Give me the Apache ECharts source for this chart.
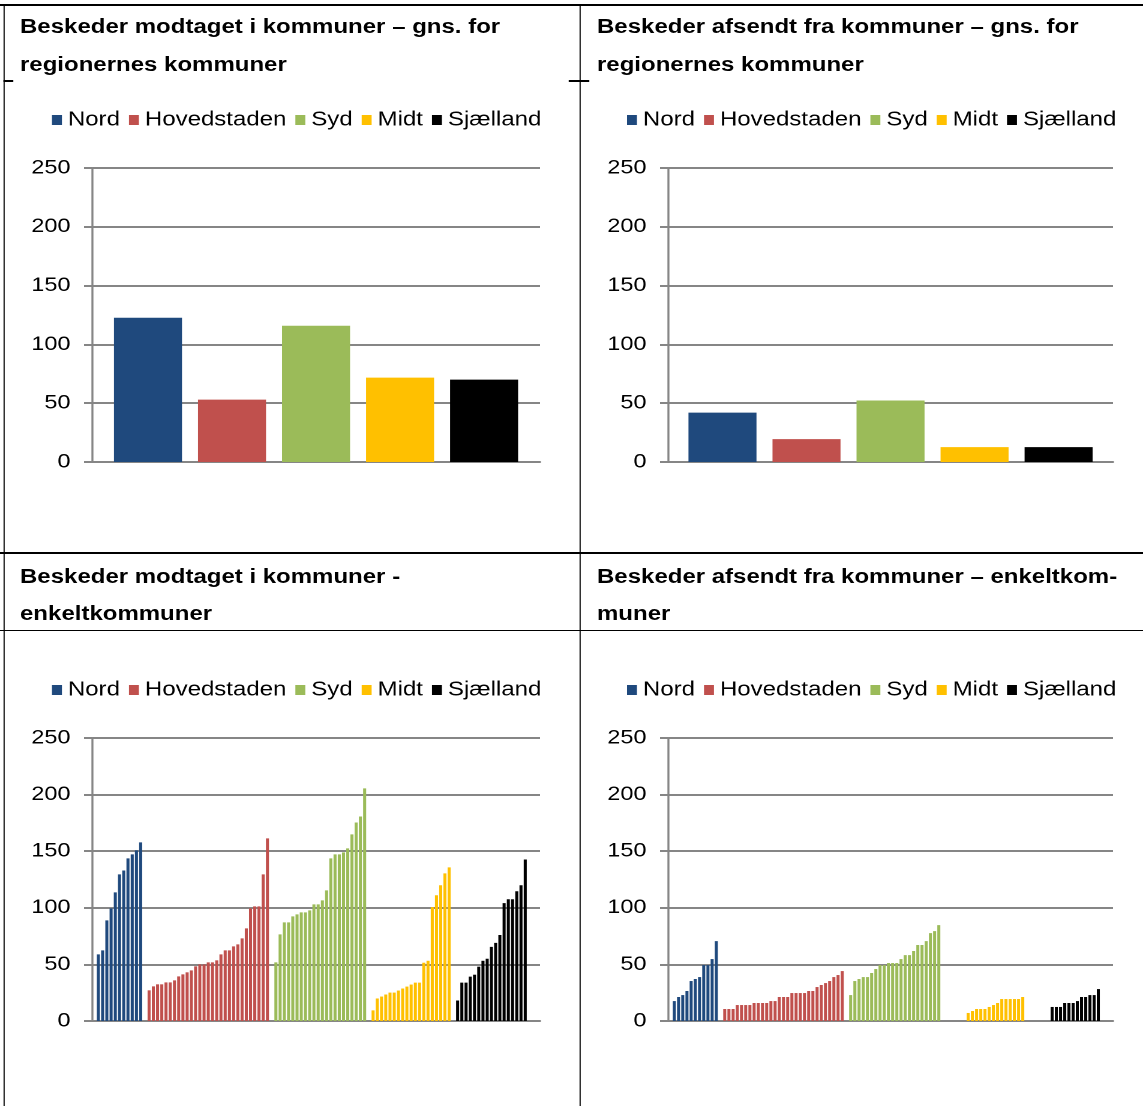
<!DOCTYPE html>
<html>
<head>
<meta charset="utf-8">
<script src="https://cdn.jsdelivr.net/npm/echarts@6/dist/echarts.min.js"></script>
<style>
  html, body { margin: 0; padding: 0; background: #fff; overflow: hidden; }
  #page {
    position: absolute; left: 0; top: 0;
    width: 952.5px; height: 1106px;
    transform: scaleX(1.2); transform-origin: 0 0;
    font-family: 'Liberation Sans', Arial, sans-serif;
  }
  .rule { position: absolute; background: #000; }
  .title {
    position: absolute; font-weight: bold; font-size: 20px; color: #000;
    white-space: nowrap;
  }
  .chart { position: absolute; }
</style>
</head>
<body>
<div id="page">
  <!-- table rules -->
  <div class="rule" style="left:0; top:4px; width:952.5px; height:1.5px"></div>
  <div class="rule" style="left:2.9px; top:4px; width:1.2px; height:1102px"></div>
  <div class="rule" style="left:482.9px; top:4px; width:1.5px; height:1102px"></div>
  <div class="rule" style="left:0; top:552px; width:952.5px; height:1.5px"></div>
  <div class="rule" style="left:0; top:629.5px; width:952.5px; height:1.5px"></div>
  <div class="rule" style="left:3px; top:80px; width:8px; height:1.5px"></div>
  <div class="rule" style="left:474px; top:80px; width:17px; height:1.5px"></div>

  <div class="title" style="left:16.7px; top:7px; line-height:38px">Beskeder modtaget i kommuner – gns. for<br>regionernes kommuner</div>
  <div class="title" style="left:497.5px; top:7px; line-height:38px">Beskeder afsendt fra kommuner – gns. for<br>regionernes kommuner</div>
  <div class="title" style="left:16.7px; top:557.5px; line-height:37px">Beskeder modtaget i kommuner -<br>enkeltkommuner</div>
  <div class="title" style="left:497.5px; top:557.5px; line-height:37px">Beskeder afsendt fra kommuner – enkeltkom-<br>muner</div>

  <div id="c1" class="chart" style="left:4px; top:90px; width:480px; height:460px"></div>
  <div id="c2" class="chart" style="left:484px; top:90px; width:468px; height:460px"></div>
  <div id="c3" class="chart" style="left:4px; top:660px; width:480px; height:446px"></div>
  <div id="c4" class="chart" style="left:484px; top:660px; width:468px; height:446px"></div>
</div>
<script>
// Regions and their colours
const regions = ['Nord', 'Hovedstaden', 'Syd', 'Midt', 'Sjælland'];
const regionColors = ['#1F497D', '#C0504D', '#9BBB59', '#FFC000', '#000000'];
const yTicks = [0, 50, 100, 150, 200, 250];

// Average per municipality in each region
const gnsModtaget = [122.7, 53.0, 115.9, 71.7, 70.0];
const gnsAfsendt = [42.0, 19.5, 52.3, 12.6, 12.6];

// Messages received, single municipalities (sorted within region)
const modtagetNord = [58.9, 62.4, 88.9, 99.5, 113.6, 129.5, 133.0, 143.7, 147.2, 150.7, 157.8];
const modtagetHovedstaden = [27.1, 30.6, 32.4, 32.4, 34.1, 34.1, 35.9, 39.4, 41.2, 43.0, 44.7, 48.3, 50.0, 50.0, 51.8, 51.8, 53.6, 58.9, 62.4, 62.4, 65.9, 67.7, 73.0, 81.8, 99.5, 101.3, 101.3, 129.5, 161.3];
const modtagetSyd = [51.8, 76.5, 87.1, 87.1, 92.4, 94.2, 96.0, 96.0, 97.7, 103.0, 103.0, 106.6, 115.4, 143.7, 147.2, 147.2, 149.0, 152.5, 164.9, 175.4, 180.7, 205.5];
const modtagetMidt = [9.4, 19.9, 21.6, 23.4, 25.1, 25.1, 26.9, 28.7, 30.4, 32.2, 33.9, 33.9, 51.5, 53.2, 100.6, 111.1, 119.9, 130.4, 135.7];
const modtagetSjaelland = [18.1, 33.9, 33.9, 39.2, 40.9, 48.0, 53.2, 55.0, 65.5, 69.0, 76.0, 104.1, 107.6, 107.6, 114.6, 119.9, 142.7];

// Messages sent, single municipalities (sorted within region)
const afsendtNord = [17.6, 21.2, 22.9, 26.5, 35.3, 37.1, 38.8, 49.4, 49.4, 54.7, 70.6];
const afsendtHovedstaden = [10.6, 10.6, 10.6, 14.1, 14.1, 14.1, 14.1, 15.9, 15.9, 15.9, 15.9, 17.6, 17.6, 21.2, 21.2, 21.2, 24.7, 24.7, 24.7, 24.7, 26.5, 26.5, 30.0, 31.8, 33.5, 35.3, 38.8, 40.6, 44.1];
const afsendtSyd = [22.9, 35.3, 37.1, 38.8, 38.8, 42.4, 45.9, 49.4, 49.4, 51.2, 51.2, 51.2, 54.7, 58.2, 58.2, 61.8, 67.1, 67.1, 70.6, 77.6, 79.4, 84.7];
const afsendtMidt = [0, 0, 0, 0, 0, 7.1, 8.8, 10.6, 10.6, 10.6, 12.4, 14.1, 15.9, 19.4, 19.4, 19.4, 19.4, 19.4, 21.2];
const afsendtSjaelland = [0, 0, 0, 0, 0, 12.4, 12.4, 12.4, 15.9, 15.9, 15.9, 17.6, 21.2, 21.2, 22.9, 22.9, 28.2];

const FONT = "'Liberation Sans', Arial, sans-serif";
const GRAY = '#868686';

// Empty category slots: one before the first region, one between regions, three at the end
const LEAD_SLOTS = 1, BETWEEN_SLOTS = 1, TRAIL_SLOTS = 3;

function buildCategorySeries(groups) {
  const categories = [];
  const owner = [];          // region index per slot, -1 for empty slots
  const values = [];
  let gapNo = 0;
  const addGap = n => { for (let i = 0; i < n; i++) { categories.push('tom ' + (++gapNo)); owner.push(-1); values.push(null); } };
  addGap(LEAD_SLOTS);
  groups.forEach((vals, r) => {
    if (r > 0) addGap(BETWEEN_SLOTS);
    vals.forEach((v, k) => { categories.push(regions[r] + ' ' + (k + 1)); owner.push(r); values.push(v); });
  });
  addGap(TRAIL_SLOTS);
  const series = regions.map((name, r) => ({
    type: 'bar', name,
    data: values.map((v, i) => owner[i] === r ? v : null),
    barWidth: '72%', barGap: '-100%'
  }));
  return { categories, series };
}

function baseOption(gridLeft, gridWidth, gridHeight, legendLeft) {
  return {
    animation: false,
    color: regionColors,
    legend: {
      data: regions, left: legendLeft, top: 20, padding: 0,
      icon: 'rect', itemWidth: 8.3, itemHeight: 10, itemGap: 7.5,
      textStyle: { fontFamily: FONT, fontSize: 20, color: '#000' }
    },
    grid: { left: gridLeft, top: 78, width: gridWidth, height: gridHeight },
    yAxis: {
      type: 'value', min: yTicks[0], max: yTicks[yTicks.length - 1], interval: 50,
      axisLine: { show: true, lineStyle: { color: GRAY, width: 1.7 } },
      axisTick: { show: true, length: 6.7, lineStyle: { color: GRAY, width: 2 } },
      axisLabel: { margin: 18, fontFamily: FONT, fontSize: 19.5, color: '#000', padding: [6, 0, 0, 0] },
      splitLine: { show: true, lineStyle: { color: GRAY, width: 2 } }
    }
  };
}

function avgChart(id, values, gridLeft, gridWidth, legendLeft) {
  const chart = echarts.init(document.getElementById(id), null, { devicePixelRatio: 2 });
  const opt = baseOption(gridLeft, gridWidth, 294, legendLeft);
  opt.xAxis = {
    type: 'category', data: ['Gns.'],
    axisLine: { lineStyle: { color: GRAY, width: 2 } },
    axisTick: { show: false }, axisLabel: { show: false }
  };
  opt.series = regions.map((name, r) => ({
    type: 'bar', name, data: [values[r]], barWidth: 56.7, barGap: '23.5%'
  }));
  chart.setOption(opt);
}

function muniChart(id, groups, gridLeft, gridWidth, legendLeft) {
  const chart = echarts.init(document.getElementById(id), null, { devicePixelRatio: 2 });
  const built = buildCategorySeries(groups);
  const opt = baseOption(gridLeft, gridWidth, 283, legendLeft);
  opt.xAxis = {
    type: 'category', data: built.categories,
    axisLine: { lineStyle: { color: GRAY, width: 2 } },
    axisTick: { show: false }, axisLabel: { show: false }
  };
  opt.series = built.series;
  chart.setOption(opt);
}

avgChart('c1', gnsModtaget, 72.7, 373.3, 39.3);
avgChart('c2', gnsAfsendt, 72.7, 370.8, 38.5);
muniChart('c3', [modtagetNord, modtagetHovedstaden, modtagetSyd, modtagetMidt, modtagetSjaelland], 72.7, 373.3, 39.3);
muniChart('c4', [afsendtNord, afsendtHovedstaden, afsendtSyd, afsendtMidt, afsendtSjaelland], 72.7, 370.8, 38.5);
</script>
</body>
</html>
